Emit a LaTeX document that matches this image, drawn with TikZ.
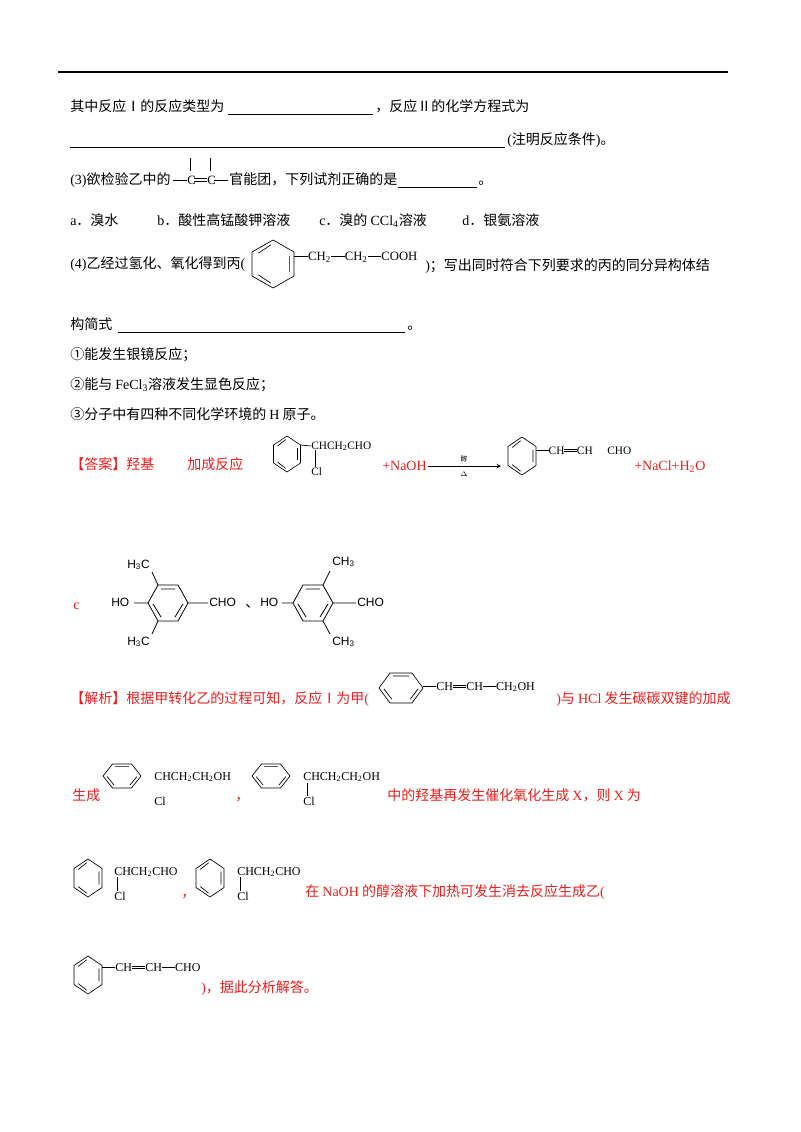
\documentclass[tikz,border=0pt]{standalone}
\usepackage{fontspec}
\setmainfont{Liberation Serif}
\newfontfamily\cjk{Noto Sans CJK SC}
\newfontfamily\arial{Liberation Sans}
\definecolor{ared}{RGB}{235,30,30}
\newcommand\lat[1]{{\rmfamily #1}}
\newcommand\sbd{\raisebox{0.3em}{\rule{1.1em}{0.35pt}}}
\newcommand\dbd{\raisebox{0.2em}{\rule{1.1em}{0.35pt}}\llap{\raisebox{0.42em}{\rule{1.1em}{0.35pt}}}}
\newcommand\sub[1]{\textsubscript{#1}}
% ring with pointy top: x y halfwidth halfheight
\newcommand\benzV[4]{\begin{scope}[shift={(#1,#2)},xscale=#3,yscale=#4,line width=0.5pt]
\draw (0,-1)--(1,-.5)--(1,.5)--(0,1)--(-1,.5)--(-1,-.5)--cycle;
\draw (.78,-.33)--(.78,.33) (-.1,.8)--(-.7,.45) (-.7,-.45)--(-.1,-.8);
\end{scope}}
% ring with flat top
\newcommand\benzH[4]{\begin{scope}[shift={(#1,#2)},xscale=#3,yscale=#4,line width=0.5pt]
\draw (-1,0)--(-.5,-1)--(.5,-1)--(1,0)--(.5,1)--(-.5,1)--cycle;
\draw (-.36,-.8)--(.36,-.8) (.78,.05)--(.42,.75) (-.42,.75)--(-.78,.05);
\end{scope}}
\tikzset{
 t/.style={anchor=west,inner sep=0,text height=8pt,text depth=2pt,font=\cjk\fontsize{10.5}{12}\selectfont},
 r/.style={t,text=ared},
 ch/.style={anchor=west,inner sep=0,text height=6pt,text depth=1.5pt,font=\fontsize{8.5}{10}\selectfont},
 chb/.style={anchor=west,inner sep=0,text height=7pt,text depth=2pt,font=\fontsize{9.5}{11}\selectfont},
 ar/.style={anchor=west,inner sep=0,text height=7pt,text depth=2pt,font=\arial\fontsize{9}{10}\selectfont},
 uline/.style={line width=0.5pt}
}
\begin{document}
\begin{tikzpicture}[x=0.75pt,y=-0.75pt]
\fill[white] (0,0) rectangle (800,1132);
\useasboundingbox (0,0) rectangle (800,1132);
\draw[line width=1.4pt] (58,72)--(728,72);
% line 1
\node[t] (a1) at (70,107) {其中反应Ⅰ的反应类型为};
\draw[uline] (228,114)--(373,114);
\node[t] (a2) at (375,107) {，反应Ⅱ的化学方程式为};
\draw[uline] (70,147)--(505,147);
\node[t] (a3) at (507,140) {\lat{(}注明反应条件\lat{)}。};
% line 3
\node[t] (b1) at (70,180) {\lat{(3)}欲检验乙中的};
\node[chb] (c1) at (187,181) {C};
\node[chb] (c2) at (207,181) {C};
\draw[uline] (173,180)--(187,180);
\draw[uline] (194,178.5)--(207,178.5) (194,181.5)--(207,181.5);
\draw[uline] (214,180)--(228,180);
\draw[uline] (190.5,158)--(190.5,171) (210.5,158)--(210.5,171);
\node[t] (b2) at (229,180) {官能团，下列试剂正确的是};
\draw[uline] (398,187)--(477,187);
\node[t] (b3) at (478,180) {。};
% line 4
\node[t] (d1) at (70,221) {\lat{a}．溴水};
\node[t] (d2) at (157,221) {\lat{b}．酸性高锰酸钾溶液};
\node[t] (d3) at (319,221) {\lat{c}．溴的 \lat{CCl\sub{4}}溶液};
\node[t] (d4) at (462,221) {\lat{d}．银氨溶液};
% line 5
\node[t] (e1) at (70,264) {\lat{(4)}乙经过氢化、氧化得到丙\lat{(}};
\benzV{273}{264}{21}{24}
\node[chb] (e2) at (294,257) {\sbd CH\sub2\sbd CH\sub2\sbd COOH};
\node[t] (e3) at (425,266) {\lat{)}；写出同时符合下列要求的丙的同分异构体结};
\node[t] (f1) at (70,325) {构简式};
\draw[uline] (118,332)--(405,332);
\node[t] (f2) at (407,325) {。};
\node[t] (g1) at (70,355) {①能发生银镜反应；};
\node[t] (g2) at (70,385) {②能与 \lat{FeCl\sub3}溶液发生显色反应；};
\node[t] (g3) at (70,415) {③分子中有四种不同化学环境的 \lat{H} 原子。};
% answer
\node[r] (h1) at (70,465) {【答案】羟基};
\node[r] (h2) at (187,465) {加成反应};
\benzV{287}{454}{13.5}{18}
\node[ch] (h3) at (311,446) {CHCH\sub2CHO};
\draw[uline] (300.5,445)--(h3.west);
\node[ch] (h4) at (311,472) {Cl};
\draw[uline] (315,450)--(315,467);
\node[r,font=\fontsize{10.5}{12}\selectfont] (h5) at (382,466) {+NaOH};
\node[inner sep=0,font=\cjk\fontsize{5}{6}\selectfont] (h6) at (464,459) {醇};
\node[inner sep=0,font=\fontsize{5}{6}\selectfont] (h7) at (464,474) {$\Delta$};
\draw[->,line width=0.5pt,>=stealth] (428,466)--(501,466);
\benzV{522}{456}{14}{19}
\node[ch] (h8) at (536,451) {\sbd CH\dbd CH};
\node[ch] (h9) at (607,451) {CHO};
\node[r,font=\fontsize{10.5}{12}\selectfont] (h10) at (634,466) {+NaCl+H\sub2O};
% structures
\node[r,font=\fontsize{10.5}{12}\selectfont] (k0) at (73,605) {c};
\begin{scope}[line width=0.6pt]
\draw (148,603)--(158,585)--(178,585)--(188,603)--(178,621)--(158,621)--cycle;
\draw (161,589)--(175,589) (183,604)--(175,617) (161,617)--(153,604);
\draw (158,585)--(152,572) (158,621)--(152,634) (148,603)--(134,603) (188,603)--(208,603);
\end{scope}
\node[ar] (k1) at (127,565) {H\sub3C};
\node[ar] (k2) at (111,603) {HO};
\node[ar] (k3) at (209,603) {CHO};
\node[ar] (k4) at (127,642) {H\sub3C};
\node[t] (k5) at (245,603) {、};
\begin{scope}[line width=0.6pt]
\draw (293,603)--(303,585)--(323,585)--(333,603)--(323,621)--(303,621)--cycle;
\draw (306,589)--(320,589) (328,604)--(320,617) (306,617)--(298,604);
\draw (323,585)--(330,571) (323,621)--(330,634) (293,603)--(282,603) (333,603)--(356,603);
\end{scope}
\node[ar] (k6) at (260,603) {HO};
\node[ar] (k7) at (332,562) {CH\sub3};
\node[ar] (k8) at (357,603) {CHO};
\node[ar] (k9) at (332,642) {CH\sub3};
% analysis line 1
\node[r] (m1) at (70,699) {【解析】根据甲转化乙的过程可知，反应Ⅰ为甲\lat{(}};
\benzH{401}{688}{22}{15}
\node[ch,font=\fontsize{9}{10}\selectfont] (m2) at (423,687) {\sbd CH\dbd CH\sbd CH\sub2OH};
\node[r] (m3) at (556,699) {\lat{)}与 \lat{HCl} 发生碳碳双键的加成};
% line 2
\node[r] (n1) at (72,796) {生成};
\benzH{122}{776}{19}{12}
\node[ch,font=\fontsize{9}{10}\selectfont] (n2) at (154,777) {CHCH\sub2CH\sub2OH};
\node[ch,font=\fontsize{9}{10}\selectfont] (n3) at (154,802) {Cl};
\node[r] (n4) at (235,796) {，};
\benzH{271}{776}{19}{12}
\node[ch,font=\fontsize{9}{10}\selectfont] (n5) at (303,777) {CHCH\sub2CH\sub2OH};
\draw[uline] (307,783)--(307,796);
\node[ch,font=\fontsize{9}{10}\selectfont] (n6) at (303,802) {Cl};
\node[r] (n7) at (387,796) {中的羟基再发生催化氧化生成 \lat{X}，则 \lat{X} 为};
% line 3
\benzV{88}{878}{14}{19}
\node[ch,font=\fontsize{9}{10}\selectfont] (p1) at (114,872) {CHCH\sub2CHO};
\draw[uline] (117,877)--(117,891);
\node[ch,font=\fontsize{9}{10}\selectfont] (p2) at (114,897) {Cl};
\node[r] (p3) at (181,893) {，};
\benzV{210}{878}{14}{19}
\node[ch,font=\fontsize{9}{10}\selectfont] (p4) at (237,872) {CHCH\sub2CHO};
\draw[uline] (240,877)--(240,891);
\node[ch,font=\fontsize{9}{10}\selectfont] (p5) at (237,897) {Cl};
\node[r] (p6) at (305,892) {在 \lat{NaOH} 的醇溶液下加热可发生消去反应生成乙\lat{(}};
% line 4
\benzV{88}{975}{14}{19}
\node[ch,font=\fontsize{9}{10}\selectfont] (q1) at (102,968) {\sbd CH\dbd CH\sbd CHO};
\node[r] (q2) at (201,988) {\lat{)}，据此分析解答。};
\end{tikzpicture}
\end{document}
